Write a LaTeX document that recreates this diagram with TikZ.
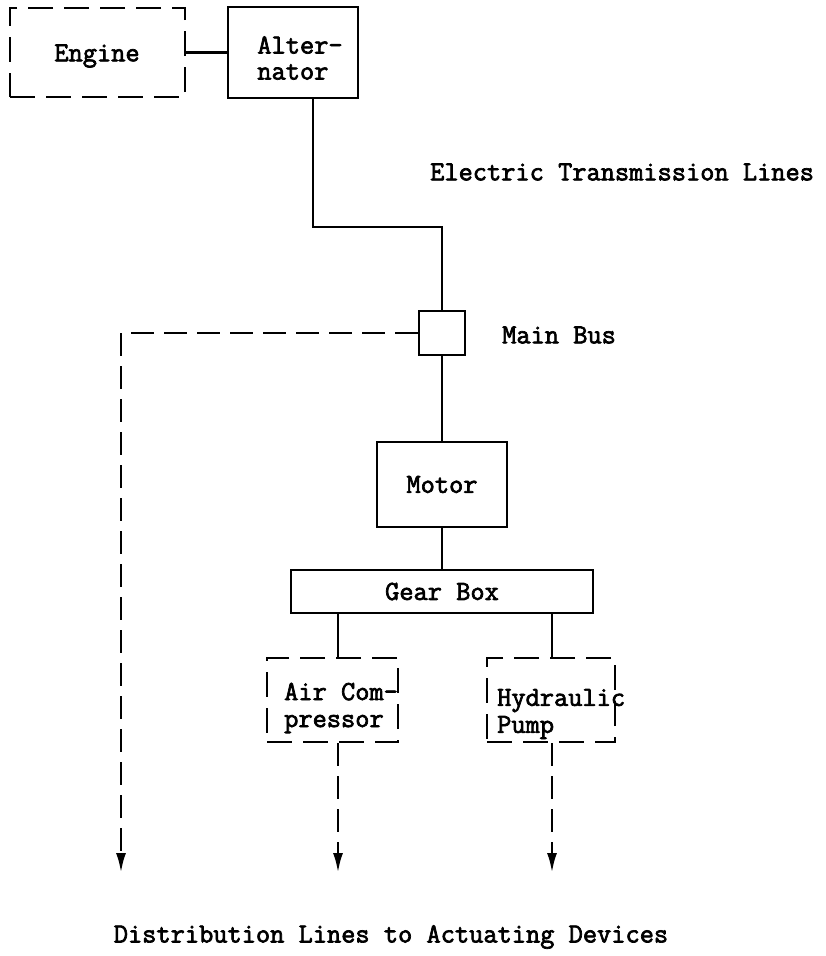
\documentclass[tikz,border=0pt]{standalone}
\usepackage{fontspec}
\newfontfamily\tw{Latin Modern Mono}[FakeBold=2.5]
\usetikzlibrary{arrows.meta}
\begin{document}
\begin{tikzpicture}[x=1pt,y=-1pt,
  every node/.style={font=\tw\fontsize{27.6}{27}\selectfont},
  blk/.style={draw, line width=2.8pt, rectangle, inner sep=0pt},
  dblk/.style={blk, dash pattern=on 25pt off 11pt},
  wire/.style={line width=2.8pt},
  dwire/.style={line width=2.8pt, dash pattern=on 23pt off 10pt, -{Latex[length=20pt,width=10pt]}},
  txt/.style={inner sep=0pt}]
\useasboundingbox (0,0) rectangle (826,956);
\fill[white] (0,0) rectangle (826,956);
% boxes
\node[dblk, minimum width=175pt, minimum height=89pt] (engine) at (97.5,52.5) {};
\node[txt] (engtxt) at (97,56) {Engine};
\node[blk, minimum width=130pt, minimum height=91pt] (alt) at (293,52.5) {};
\node[txt, align=left, font=\tw\fontsize{27.6}{26}\selectfont] (alttxt) at (300,58) {Alter-\\nator};
\node[blk, minimum width=46pt, minimum height=44pt] (bus) at (442,333) {};
\node[blk, minimum width=130pt, minimum height=85pt] (motor) at (442,484.5) {Motor};
\node[blk, minimum width=302pt, minimum height=43pt] (gear) at (442,591.5) {Gear Box};
\node[dblk, minimum width=131pt, minimum height=84pt] (air) at (332.5,700) {};
\node[dblk, minimum width=128pt, minimum height=84pt] (hyd) at (551,700) {};
\node[txt, anchor=west, align=left] (airtxt) at (284,708) {Air Com-\\pressor};
\node[txt, anchor=west, align=left] (hydtxt) at (497,714) {Hydraulic\\Pump};
% labels
\node[txt, anchor=west] (etl) at (430,172) {Electric Transmission Lines};
\node[txt, anchor=west] (mb) at (502,335) {Main Bus};
\node[txt] (dist) at (391,937) {Distribution Lines to Actuating Devices};
% coordinates
\coordinate (c1) at (313,227);
\coordinate (c2) at (121,333);
\coordinate (e1) at (121,873);
\coordinate (e2) at (338,873);
\coordinate (e3) at (552,873);
% wires
\draw[wire] (engine.east) -- (alt.west);
\draw[wire] (alt.south -| c1) -- (c1) -| (bus.north);
\draw[wire] (bus.south) -- (motor.north);
\draw[wire] (motor.south) -- (gear.north);
\draw[wire] (gear.south -| e2) -- (air.north -| e2);
\draw[wire] (gear.south -| e3) -- (hyd.north -| e3);
\draw[dwire] (bus.west) -- (c2) -- (e1);
\draw[dwire] (air.south -| e2) -- (e2);
\draw[dwire] (hyd.south -| e3) -- (e3);
\end{tikzpicture}
\end{document}
